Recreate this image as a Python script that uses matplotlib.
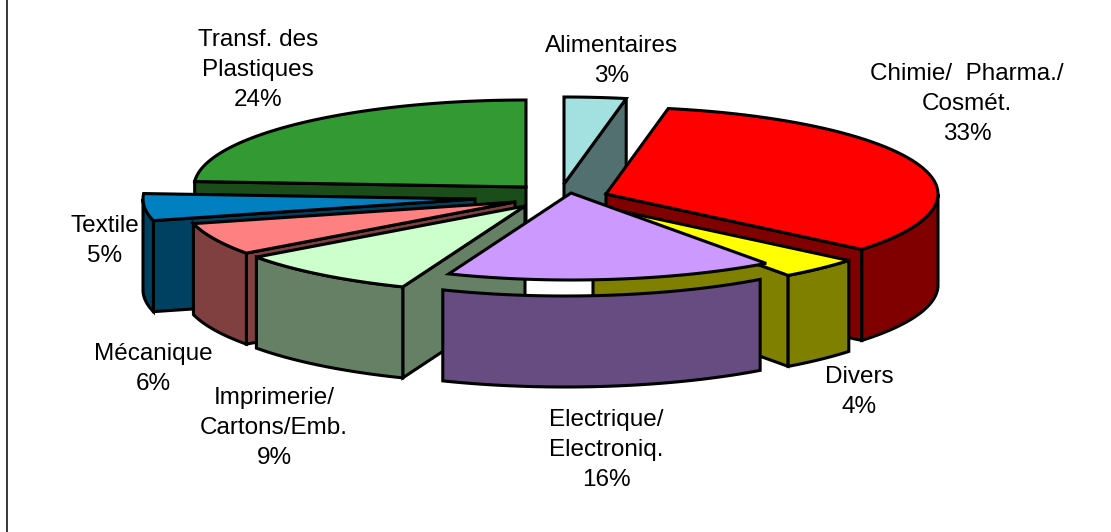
import matplotlib
matplotlib.use("Agg")
import matplotlib.pyplot as plt
from matplotlib.patches import Polygon
import numpy as np

# slices clockwise from twelve o'clock
names = ["Alimentaires", "Chimie/  Pharma./\nCosmét.", "Divers", "Electrique/\nElectroniq.",
         "Imprimerie/\nCartons/Emb.", "Mécanique", "Textile", "Transf. des\nPlastiques"]
shares = [3, 33, 4, 16, 9, 6, 5, 24]
top_colors = ["#A3E0E0", "#FF0000", "#FFFF00", "#CC99FF", "#CCFFCC", "#FF8080", "#0080C0", "#339933"]
side_colors = ["#527070", "#800000", "#808000", "#664C80", "#668066", "#804040", "#004060", "#1A4D1A"]

# where each exploded slice has its tip, in pixels
tips = [(564, 184), (606, 194), (593, 205), (571, 193), (525, 206), (515, 202), (475, 199), (526, 187)]
# the front wall of Electrique sits lower than its top in the original
wall_shift = [(0, 0), (0, 0), (0, 0), (-6, 16), (0, 0), (0, 0), (0, 0), (0, 0)]
label_pos = [(612, 61), (967, 104), (859, 392), (606, 450), (274, 428), (153, 369), (105, 241), (258, 70)]
draw_order = [7, 0, 1, 6, 5, 4, 2, 3]

rx, ry = 332, 87
depth = 91


def rim(tip, a, b):
    t = np.radians(np.linspace(a, b, 60))
    return np.column_stack([tip[0] + rx * np.sin(t), tip[1] - ry * np.cos(t)])


def add_poly(ax, pts, color):
    ax.add_patch(Polygon(pts, closed=True, facecolor=color, edgecolor="black",
                         linewidth=2.2, joinstyle="miter"))


fig = plt.figure(figsize=(11.11, 5.32), dpi=100)
ax = fig.add_axes([0, 0, 1, 1])
ax.set_xlim(0, 1111)
ax.set_ylim(532, 0)
ax.axis("off")

ax.plot([6.5, 6.5], [0, 532], color="black", linewidth=1.1)

edges = np.cumsum([0] + shares) / sum(shares) * 360
down = np.array([0, depth])

for i in draw_order:
    a, b = edges[i], edges[i + 1]
    tip = np.array(tips[i])
    # flat side of the slice, only where it faces the viewer
    if b <= 180:
        p = rim(tip, b, b)[0]
        add_poly(ax, [tip, p, p + down, tip + down], side_colors[i])
    if a >= 180:
        p = rim(tip, a, a)[0]
        add_poly(ax, [tip, p, p + down, tip + down], side_colors[i])
    # curved wall on the front half
    lo, hi = max(a, 90), min(b, 270)
    if lo < hi:
        arc = rim(tip + np.array(wall_shift[i]), lo, hi)
        add_poly(ax, np.vstack([arc, arc[::-1] + down]), side_colors[i])
    add_poly(ax, np.vstack([[tip], rim(tip, a, b)]), top_colors[i])

for name, share, pos in zip(names, shares, label_pos):
    ax.text(pos[0], pos[1], f"{name}\n{share}%", ha="center", va="center", multialignment="center",
            fontsize=17.5, family="Liberation Sans", color="black", linespacing=1.49)

plt.savefig("out.png", dpi=100)
